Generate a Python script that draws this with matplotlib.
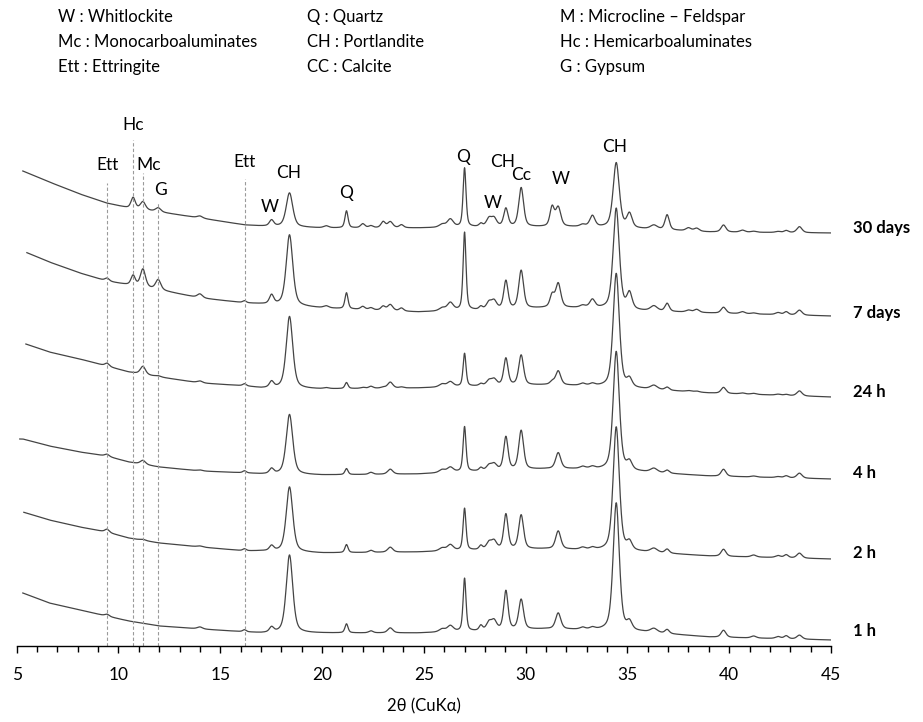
import matplotlib
matplotlib.use('Agg')
import matplotlib.pyplot as plt
import numpy as np

plt.rcParams['font.family'] = ['Lato', 'DejaVu Sans']

# sample names, top trace first
samples = ['30 days', '7 days', '24 h', '4 h', '2 h', '1 h']
theta_start = [5.3, 5.5, 5.45, 5.15, 5.35, 5.3]

# background (2theta nodes, offset height per sample, vertical units = px in the original)
bg_theta = [5.3, 6.6, 8.1, 9.4, 10.5, 12, 14, 16.2, 17, 20, 24.7, 28, 31, 33, 35.7, 39, 45]
bg_30d = [475, 464, 452, 443, 438, 434, 428, 421, 420, 418, 418, 419, 419, 419, 417, 414, 413]
bg_7d = [395, 384, 373, 365, 361, 356, 348, 343, 342, 338, 334, 336, 338, 338, 335, 333, 330]
bg_24h = [303, 294, 287, 280, 274, 269, 263, 260, 258, 257, 258, 260, 261, 260, 257, 253, 249]
bg_4h = [207, 200, 194, 190, 184, 179, 175, 173, 172, 171, 172, 175, 177, 177, 174, 170, 167]
bg_2h = [134, 126, 119, 114, 108, 103, 99, 95, 95, 93, 94, 96, 97, 96, 94, 90, 87]
bg_1h = [53, 43, 36, 30, 25, 20, 17, 14, 13, 13, 13, 15, 17, 16, 14, 9, 6]

# reflections: position (deg 2theta) and fwhm
peak_pos = [9.44, 10.72, 11.2, 11.95, 14.0, 16.19, 17.52, 18.4, 20.2, 21.2,
            22.0, 22.4, 23.0, 23.35, 23.9, 25.9, 26.3, 27.0, 27.8, 28.2,
            28.45, 29.03, 29.78, 31.3, 31.6, 32.8, 33.28, 34.45, 35.1, 36.3,
            36.95, 38.0, 38.4, 39.72, 40.65, 41.2, 42.4, 42.8, 43.45]
peak_fwhm = [0.25, 0.25, 0.3, 0.3, 0.3, 0.2, 0.25, 0.38, 0.3, 0.18,
             0.25, 0.25, 0.25, 0.3, 0.25, 0.35, 0.35, 0.17, 0.2, 0.3,
             0.3, 0.25, 0.28, 0.25, 0.3, 0.3, 0.3, 0.36, 0.3, 0.4,
             0.25, 0.3, 0.3, 0.28, 0.3, 0.3, 0.3, 0.25, 0.3]

# peak heights above background for each sample
h_30d = [0, 11, 8, 4, 2, 0, 6, 34, 2, 17,
         4, 2, 6, 6, 3, 3, 8, 59, 3, 8,
         8, 18, 39, 19, 19, 2, 11, 65, 14, 4,
         15, 3, 3, 7, 2, 1, 1, 2, 6]
h_7d = [3, 10, 18, 10, 4, 2, 9, 71, 2, 16,
        3, 2, 4, 6, 3, 3, 8, 78, 3, 7,
        8, 28, 38, 12, 24, 2, 8, 101, 16, 5,
        8, 2, 3, 6, 2, 1, 2, 3, 5]
h_24h = [3, 0, 8, 1, 2, 2, 6, 72, 1, 6,
         1, 2, 1, 6, 1, 3, 5, 33, 2, 5,
         6, 27, 30, 3, 14, 2, 2, 114, 8, 4,
         3, 1, 1, 6, 1, 1, 1, 1, 5]
h_4h = [2, 0, 4, 0, 1, 2, 5, 60, 0, 6,
        0, 2, 0, 5, 0, 3, 5, 45, 3, 5,
        6, 33, 39, 0, 16, 2, 2, 119, 8, 4,
        3, 0, 0, 7, 0, 1, 1, 2, 5]
h_2h = [3, 0, 1, 0, 1, 2, 5, 65, 0, 8,
        0, 2, 0, 5, 0, 3, 6, 42, 4, 7,
        8, 35, 34, 0, 18, 2, 2, 124, 8, 4,
        4, 0, 0, 7, 0, 2, 2, 3, 5]
h_1h = [2, 0, 0, 0, 2, 2, 5, 78, 0, 9,
        0, 2, 0, 5, 0, 3, 6, 53, 5, 8,
        9, 39, 30, 0, 16, 2, 2, 128, 8, 4,
        4, 0, 0, 7, 0, 2, 2, 3, 4]

backgrounds = [bg_30d, bg_7d, bg_24h, bg_4h, bg_2h, bg_1h]
heights = [h_30d, h_7d, h_24h, h_4h, h_2h, h_1h]

# phase labels above the patterns
phase_text = ['Ett', 'Hc', 'Mc', 'G', 'Ett', 'W', 'CH', 'Q', 'Q', 'W', 'CH', 'Cc', 'W', 'CH']
phase_x = [9.44, 10.72, 11.46, 12.05, 16.19, 17.41, 18.34, 21.2, 26.95, 28.38, 28.87, 29.8, 31.72, 34.38]
phase_y = [481, 521, 481, 456, 484, 439, 473, 453, 489, 443, 484, 471, 467, 499]

# dashed reference lines (position, top)
ref_x = [9.44, 10.72, 11.2, 11.95, 16.19]
ref_top = [463, 506, 473, 443, 467]

legend_cols = [
    ['W : Whitlockite', 'Mc : Monocarboaluminates', 'Ett : Ettringite'],
    ['Q : Quartz', 'CH : Portlandite', 'CC : Calcite'],
    ['M : Microcline \u2013 Feldspar', 'Hc : Hemicarboaluminates', 'G : Gypsum'],
]
legend_x_px = [58, 307, 560]
legend_y_px = [17, 42, 67]


def pattern(theta, bg, h):
    y = np.interp(theta, bg_theta, bg)
    for p, w, a in zip(peak_pos, peak_fwhm, h):
        if a == 0:
            continue
        d = (theta - p) / (w / 2)
        gauss = np.exp(-np.log(2) * d ** 2)
        lor = 1 / (1 + d ** 2)
        y = y + a * (0.5 * gauss + 0.5 * lor)
    return y


W, H = 923, 722
fig = plt.figure(figsize=(W / 100, H / 100), dpi=100)
ax = fig.add_axes([16.7 / W, 76 / H, (831 - 16.7) / W, 646 / H])
ax.set_xlim(5, 45)
ax.set_ylim(0, 646)

for t0, bg, h in zip(theta_start, backgrounds, heights):
    theta = np.arange(t0, 45.0001, 0.01)
    ax.plot(theta, pattern(theta, bg, h), color='#444444', lw=0.9)

for x, top in zip(ref_x, ref_top):
    ax.plot([x, x], [0, top], color='#9a9a9a', lw=0.8, ls=(0, (3, 2)))

for s, x, y in zip(phase_text, phase_x, phase_y):
    ax.text(x, y, s, ha='center', va='center', fontsize=12.5)

label_y = [418, 333, 254, 173, 93, 15]
for s, y in zip(samples, label_y):
    ax.text(46.09, y, s, ha='left', va='center', fontsize=12, fontweight='bold',
            clip_on=False)

for col, xp in zip(legend_cols, legend_x_px):
    for s, yp in zip(col, legend_y_px):
        fig.text(xp / W, 1 - yp / H, s, ha='left', va='center', fontsize=12)

for side in ['left', 'right', 'top']:
    ax.spines[side].set_visible(False)
ax.spines['bottom'].set_linewidth(1.0)
ax.set_yticks([])
ax.set_xticks(np.arange(5, 46, 5))
ax.set_xticks(np.arange(5, 46, 1), minor=True)
ax.tick_params(axis='x', which='major', direction='out', length=5, width=1,
               labelsize=12.5, pad=10)
ax.tick_params(axis='x', which='minor', direction='out', length=4, width=1)
fig.text(424 / W, 1 - 706 / H, '2\u03b8 (CuK\u03b1)', ha='center', va='center', fontsize=12)

fig.savefig('out.png', dpi=100, facecolor='white')
